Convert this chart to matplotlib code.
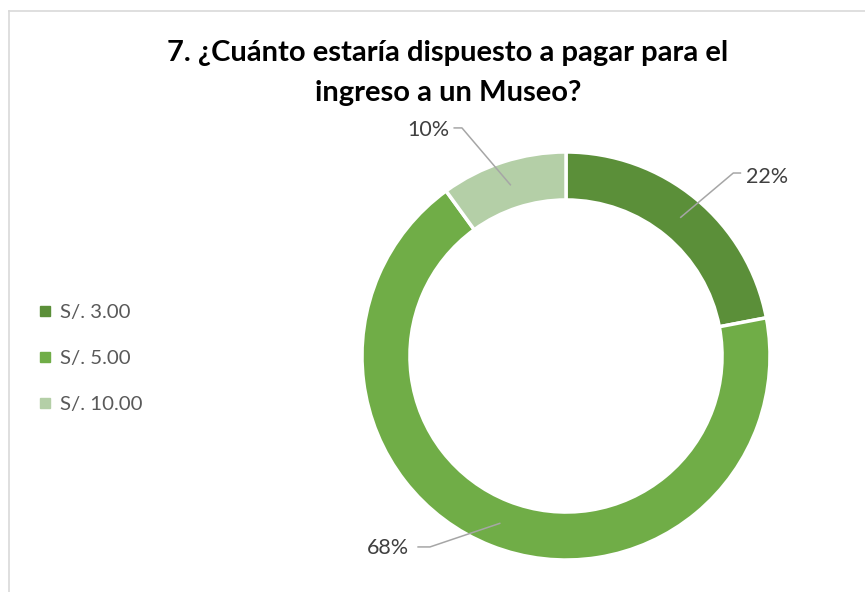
import matplotlib
matplotlib.use("Agg")
import matplotlib.pyplot as plt
from matplotlib.lines import Line2D
import numpy as np

categories = ["S/. 3.00", "S/. 5.00", "S/. 10.00"]
values = [22, 68, 10]
pct_labels = ["22%", "68%", "10%"]
colors = ["#5B8F39", "#70AD47", "#B4CFA7"]
title_lines = ["7. ¿Cuánto estaría dispuesto a pagar para el", "ingreso a un Museo?"]

W, H = 865, 592
fig = plt.figure(figsize=(W / 100, H / 100), dpi=100)
fig.patch.set_facecolor("white")

# chart border (light gray)
fig.add_artist(Line2D([8.5 / W, 1.0], [1 - 10.5 / H] * 2, color="#D9D9D9", lw=1.2, transform=fig.transFigure))
fig.add_artist(Line2D([8.5 / W] * 2, [0, 1 - 10.5 / H], color="#D9D9D9", lw=1.2, transform=fig.transFigure))

cx, cy, R = 566, 356, 204
ax = fig.add_axes([(cx - R) / W, (H - cy - R) / H, 2 * R / W, 2 * R / H])

ring_w = 0.235
wedges, _ = ax.pie(values, colors=colors, startangle=90, counterclock=False, radius=1,
                   wedgeprops=dict(width=ring_w, edgecolor="white", linewidth=2.5))
ax.set_xlim(-1, 1)
ax.set_ylim(-1, 1)
ax.set_aspect("equal")
ax.axis("off")

# data labels with leader lines
label_pos = {  # text center, elbow, line end (style positions)
    0: ((0.985, 0.877), (0.82, 0.897), (0.855, 0.897)),
    1: ((-0.873, -0.941), (-0.667, -0.936), (-0.725, -0.936)),
    2: ((-0.676, 1.108), (-0.51, 1.118), (-0.548, 1.118)),
}
total = sum(values)
start = 90.0
for i, v in enumerate(values):
    mid = start - 360.0 * v / total / 2
    start -= 360.0 * v / total
    rm = 1 - ring_w / 2
    px, py = rm * np.cos(np.radians(mid)), rm * np.sin(np.radians(mid))
    (tx, ty), (ex, ey), (lx, ly) = label_pos[i]
    ax.plot([px, ex, lx], [py, ey, ly], color="#A6A6A6", lw=1.1, clip_on=False)
    ax.text(tx, ty, pct_labels[i], ha="center", va="center", fontsize=15.5,
            color="#404040", family="Lato", clip_on=False)

for j, (line, yc) in enumerate(zip(title_lines, [53, 93])):
    fig.text(448 / W, 1 - yc / H, line, ha="center", va="center", fontsize=21,
             fontweight="bold", family="Lato", color="black")

handles = [Line2D([], [], marker="s", ls="", color=c, markersize=7.5) for c in colors]
leg = fig.legend(handles, categories, loc="upper left", bbox_to_anchor=(20 / W, 1 - 285 / H),
                 frameon=False, handlelength=0.6, handletextpad=0.45, labelspacing=1.42,
                 prop=dict(family="Lato", size=14.7))
for t in leg.get_texts():
    t.set_color("#595959")

fig.savefig("out.png", dpi=100)
